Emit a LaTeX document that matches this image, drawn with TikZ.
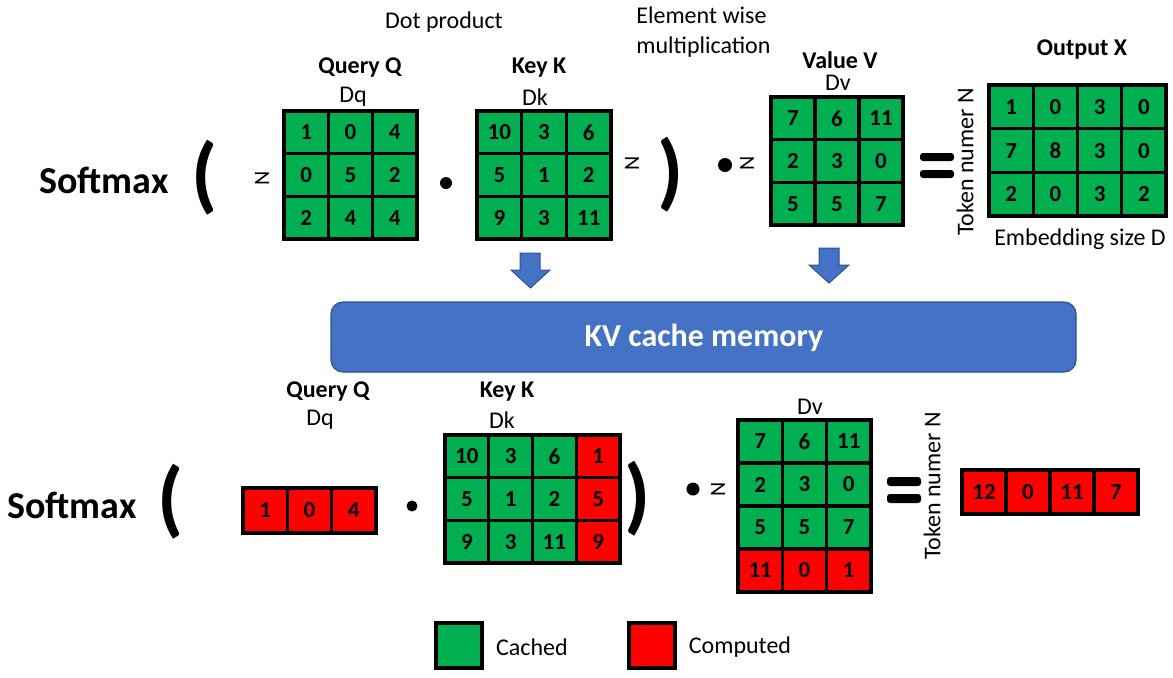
\documentclass[tikz,border=0pt]{standalone}
\usepackage{fontspec}
\setmainfont{Carlito}
\definecolor{cgreen}{HTML}{00B050}
\definecolor{cred}{HTML}{FF0000}
\definecolor{cblue}{HTML}{4472C4}
\definecolor{cbluedark}{HTML}{2F528F}
\newcommand\mgrid[6]{%
  \foreach \cc/\rr/\vv/\ff in {#6}{%
    \node[cell,fill=\ff,minimum width=#4*0.5pt,minimum height=#5*0.5pt]
      (#1-\rr-\cc) at ({#2+(\cc-0.5)*#4},{#3+(\rr-0.5)*#5}) {\vv};}}
\begin{document}
\begin{tikzpicture}[x=0.5pt,y=-0.5pt,
  cell/.style={draw=black,line width=1.7pt,inner sep=0pt,outer sep=0pt,
    font=\fontsize{11.5}{13}\selectfont\bfseries,text=black},
  frame/.style={draw=black,line width=2.2pt},
  lbl/.style={font=\fontsize{12}{14}\selectfont,inner sep=0pt},
  blbl/.style={font=\fontsize{12}{14}\selectfont\bfseries,inner sep=0pt},
  nlbl/.style={font=\fontsize{11}{13}\selectfont,inner sep=0pt,rotate=90},
  big/.style={font=\fontsize{19}{22}\selectfont\bfseries,inner sep=0pt},
  paren/.style={font=\fontsize{42}{46}\selectfont\bfseries,inner sep=0pt},
  dotop/.style={circle,fill=black,inner sep=0pt},
  eqbar/.style={fill=black,rounded corners=1.5pt},
  blockarrow/.style={fill=cblue,draw=cbluedark,line width=0.5pt},
  legendbox/.style={draw=black,line width=2pt,inner sep=0pt,minimum width=23pt,minimum height=22.5pt}
]
\useasboundingbox (0,0) rectangle (1173,677);

% ---------- top row ----------
\node[lbl] (dotprod) at (444,22) {Dot product};
\node[lbl,anchor=west,align=left,font=\fontsize{12}{15}\selectfont] (elemwise) at (636,32) {Element wise\\multiplication};

\node[big] (softmax1) at (104,180) {Softmax};
\node[paren] (lp1) at (205,178) {(};
\node[nlbl] (nq1) at (262,178) {N};

\node[blbl] (qtitle1) at (360,68) {Query Q};
\node[lbl] (dq1) at (353,97) {Dq};
\mgrid{tq}{284}{111}{44.3}{42.7}{1/1/1/cgreen,2/1/0/cgreen,3/1/4/cgreen,1/2/0/cgreen,2/2/5/cgreen,3/2/2/cgreen,1/3/2/cgreen,2/3/4/cgreen,3/3/4/cgreen}
\draw[frame] (tq-1-1.north west) rectangle (tq-3-3.south east);

\node[dotop,minimum size=6pt] (dot1) at (446,183) {};

\node[blbl] (ktitle1) at (539,68) {Key K};
\node[lbl] (dk1) at (535,97) {Dk};
\mgrid{tk}{477}{111}{44.7}{42.7}{1/1/10/cgreen,2/1/3/cgreen,3/1/6/cgreen,1/2/5/cgreen,2/2/1/cgreen,3/2/2/cgreen,1/3/9/cgreen,2/3/3/cgreen,3/3/11/cgreen}
\draw[frame] (tk-1-1.north west) rectangle (tk-3-3.south east);
\node[nlbl] (nk1) at (632,163) {N};
\node[paren] (rp1) at (671,175) {)};

\node[dotop,minimum size=7pt] (dot2) at (725,165) {};
\node[nlbl] (nv1) at (747,163) {N};

\node[blbl] (vtitle1) at (840,60) {Value V};
\node[lbl] (dv1) at (838,83) {Dv};
\mgrid{tv}{771}{97}{44}{42.7}{1/1/7/cgreen,2/1/6/cgreen,3/1/11/cgreen,1/2/2/cgreen,2/2/3/cgreen,3/2/0/cgreen,1/3/5/cgreen,2/3/5/cgreen,3/3/7/cgreen}
\draw[frame] (tv-1-1.north west) rectangle (tv-3-3.south east);

\fill[eqbar] (920,153) rectangle (954,161);
\fill[eqbar] (920,170) rectangle (954,178);

\node[lbl,rotate=90] (tok1) at (965,162) {Token numer N};
\node[blbl] (otitle) at (1082,50) {Output X};
\mgrid{to}{989}{85}{44.25}{43.7}{1/1/1/cgreen,2/1/0/cgreen,3/1/3/cgreen,4/1/0/cgreen,1/2/7/cgreen,2/2/8/cgreen,3/2/3/cgreen,4/2/0/cgreen,1/3/2/cgreen,2/3/0/cgreen,3/3/3/cgreen,4/3/2/cgreen}
\draw[frame] (to-1-1.north west) rectangle (to-3-4.south east);
\node[lbl] (emb) at (1080,239) {Embedding size D};

% ---------- arrows and KV cache ----------
\path[blockarrow] (520,253) -- (540,253) -- (540,270) -- (550,270) -- (530.5,288) -- (511,270) -- (520,270) -- cycle;
\path[blockarrow] (819,248) -- (839,248) -- (839,265) -- (849,265) -- (829,283) -- (809,265) -- (819,265) -- cycle;

\draw[fill=cblue,draw=cbluedark,line width=0.6pt,rounded corners=6pt] (331,302) rectangle (1076,372);
\node[font=\fontsize{16}{19}\selectfont\bfseries,text=white,inner sep=0pt] (kv) at (704,338) {KV cache memory};

% ---------- bottom row ----------
\node[big] (softmax2) at (72,505) {Softmax};
\node[paren] (lp2) at (171,502) {(};

\node[blbl] (qtitle2) at (328,392) {Query Q};
\node[lbl] (dq2) at (320,420) {Dq};
\mgrid{bq}{243}{488}{44.3}{45}{1/1/1/cred,2/1/0/cred,3/1/4/cred}
\draw[frame] (bq-1-1.north west) rectangle (bq-1-3.south east);

\node[dotop,minimum size=5.5pt] (dot3) at (412,506) {};

\node[blbl] (ktitle2) at (507,392) {Key K};
\node[lbl] (dk2) at (502,420) {Dk};
\mgrid{bk}{445}{435}{43.75}{42.7}{1/1/10/cgreen,2/1/3/cgreen,3/1/6/cgreen,4/1/1/cred,1/2/5/cgreen,2/2/1/cgreen,3/2/2/cgreen,4/2/5/cred,1/3/9/cgreen,2/3/3/cgreen,3/3/11/cgreen,4/3/9/cred}
\draw[frame] (bk-1-1.north west) rectangle (bk-3-4.south east);
\node[paren] (rp2) at (638,499) {)};

\node[dotop,minimum size=6.5pt] (dot4) at (693,489) {};
\node[nlbl] (nv2) at (718,489) {N};

\node[lbl] (dv2) at (810,407) {Dv};
\mgrid{bv}{738}{420}{44.3}{43}{1/1/7/cgreen,2/1/6/cgreen,3/1/11/cgreen,1/2/2/cgreen,2/2/3/cgreen,3/2/0/cgreen,1/3/5/cgreen,2/3/5/cgreen,3/3/7/cgreen,1/4/11/cred,2/4/0/cred,3/4/1/cred}
\draw[frame] (bv-1-1.north west) rectangle (bv-4-3.south east);

\fill[eqbar] (887,477) rectangle (921,486);
\fill[eqbar] (887,494) rectangle (921,503);

\node[lbl,rotate=90] (tok2) at (932,486) {Token numer N};
\mgrid{bo}{962}{470}{44}{44}{1/1/12/cred,2/1/0/cred,3/1/11/cred,4/1/7/cred}
\draw[frame] (bo-1-1.north west) rectangle (bo-1-4.south east);

% ---------- legend ----------
\node[legendbox,fill=cgreen] (legc) at (459,645.5) {};
\node[lbl] (cached) at (532,647) {Cached};
\node[legendbox,fill=cred] (legr) at (652,645.5) {};
\node[lbl] (computed) at (740,647) {Computed};
\end{tikzpicture}
\end{document}
